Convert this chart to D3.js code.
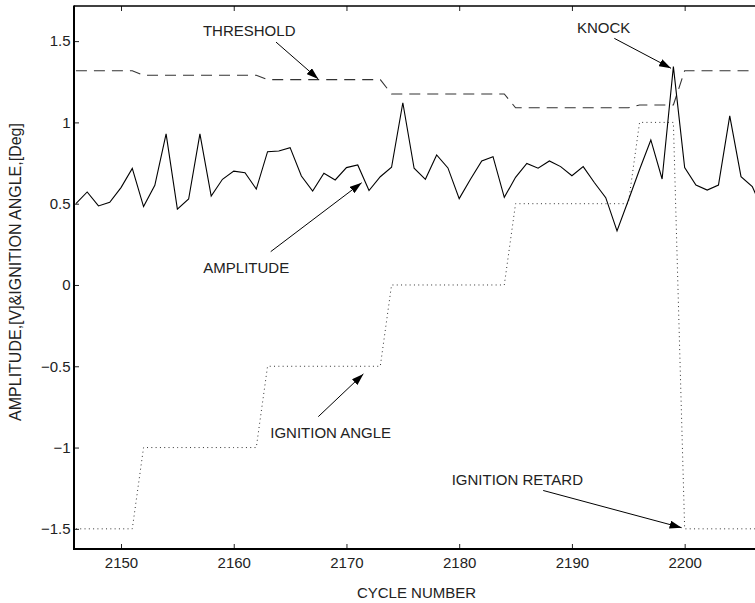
<!DOCTYPE html>
<html>
<head>
<meta charset="utf-8">
<script src="https://cdn.jsdelivr.net/npm/d3@7/dist/d3.min.js"></script>
<style>
  html, body { margin: 0; padding: 0; background: #fff; }
  svg { display: block; }
  text { font-family: "Liberation Sans", Arial, Helvetica, sans-serif; fill: #222; }
</style>
</head>
<body>
<script>
// ---------------- data ----------------
const cycles = [2146,2147,2148,2149,2150,2151,2152,2153,2154,2155,2156,2157,2158,2159,2160,2161,2162,2163,2164,2165,
                2166,2167,2168,2169,2170,2171,2172,2173,2174,2175,2176,2177,2178,2179,2180,2181,2182,2183,2184,2185,
                2186,2187,2188,2189,2190,2191,2192,2193,2194,2195,2196,2197,2198,2199,2200,2201,2202,2203,2204,2205,
                2206,2207];
const amplitude = [0.50,0.572,0.486,0.509,0.599,0.717,0.482,0.613,0.929,0.467,0.529,0.929,0.547,0.65,0.70,0.69,0.59,0.82,0.824,0.845,
                   0.67,0.578,0.687,0.646,0.722,0.738,0.581,0.666,0.724,1.121,0.718,0.65,0.80,0.72,0.531,0.65,0.763,0.789,0.539,0.662,
                   0.748,0.718,0.763,0.728,0.672,0.728,0.629,0.537,0.333,0.52,0.71,0.892,0.652,1.343,0.722,0.615,0.584,0.615,1.04,0.666,
                   0.605,0.45];
const threshold = [1.318,1.318,1.318,1.318,1.318,1.318,1.29,1.29,1.29,1.29,1.29,1.29,1.29,1.29,1.29,1.29,1.29,1.263,1.263,1.263,
                   1.263,1.263,1.263,1.263,1.263,1.263,1.263,1.263,1.175,1.175,1.175,1.175,1.175,1.175,1.175,1.175,1.175,1.175,1.175,1.09,
                   1.09,1.09,1.09,1.09,1.09,1.09,1.09,1.09,1.09,1.09,1.107,1.107,1.107,1.107,1.318,1.318,1.318,1.318,1.318,1.318,
                   1.318,1.318];
const ignition = [-1.5,-1.5,-1.5,-1.5,-1.5,-1.5,-1,-1,-1,-1,-1,-1,-1,-1,-1,-1,-1,-0.5,-0.5,-0.5,
                  -0.5,-0.5,-0.5,-0.5,-0.5,-0.5,-0.5,-0.5,0,0,0,0,0,0,0,0,0,0,0,0.5,
                  0.5,0.5,0.5,0.5,0.5,0.5,0.5,0.5,0.5,0.5,1,1,1,1,-1.5,-1.5,-1.5,-1.5,-1.5,-1.5,
                  -1.5,-1.5];
const xTicks = [2150,2160,2170,2180,2190,2200];
const xTickLabels = ["2150","2160","2170","2180","2190","2200"];
const yTicks = [-1.5,-1,-0.5,0,0.5,1,1.5];
const yTickLabels = ["\u22121.5","\u22121","\u22120.5","0","0.5","1","1.5"];
const xLabel = "CYCLE NUMBER";
const yLabel = "AMPLITUDE,[V]&IGNITION ANGLE,[Deg]";
// annotations: label, text anchor (cycle, value), arrow tail, arrow head
const annLabels = ["THRESHOLD","KNOCK","AMPLITUDE","IGNITION ANGLE","IGNITION RETARD"];
const annText   = [[2157.27,1.531],[2190.45,1.548],[2157.3,0.072],[2163.24,-0.943],[2179.33,-1.23]];
const annFrom   = [[2163.75,1.494],[2193.76,1.517],[2163.28,0.205],[2167.5,-0.81],[2187.45,-1.264]];
const annTo     = [[2167.5,1.267],[2198.79,1.333],[2171.35,0.629],[2171.5,-0.547],[2199.73,-1.493]];

// ---------------- layout ----------------
const W = 755, H = 603;
const plot = {left: 74, right: 755, top: 6, bottom: 549};

const x = d3.scaleLinear().domain([2145.83, 2206.24]).range([plot.left, plot.right]);
const y = d3.scaleLinear().domain([-1.624, 1.716]).range([plot.bottom, plot.top]);

const svg = d3.select("body").append("svg").attr("width", W).attr("height", H);

svg.append("defs").append("clipPath").attr("id", "clip")
  .append("rect").attr("x", plot.left).attr("y", plot.top)
  .attr("width", plot.right - plot.left).attr("height", plot.bottom - plot.top);

const g = svg.append("g").attr("clip-path", "url(#clip)");

function series(vals) { return cycles.map((c, i) => [c, vals[i]]); }
const line = d3.line().x(d => x(d[0])).y(d => y(d[1]));

g.append("path").datum(series(ignition)).attr("d", line)
  .attr("fill", "none").attr("stroke", "#333").attr("stroke-width", 1)
  .attr("stroke-dasharray", "1,3.3");
g.append("path").datum(series(threshold)).attr("d", line)
  .attr("fill", "none").attr("stroke", "#333").attr("stroke-width", 1.1)
  .attr("stroke-dasharray", "11,7");
g.append("path").datum(series(amplitude)).attr("d", line)
  .attr("fill", "none").attr("stroke", "#000").attr("stroke-width", 1.1)
  .attr("stroke-linejoin", "miter");

// ---------------- axes ----------------
const fontSize = 15;
const yAxis = svg.append("g").attr("transform", `translate(${plot.left},0)`)
  .call(d3.axisLeft(y).tickValues(yTicks).tickSizeInner(-5).tickSizeOuter(0).tickPadding(3.5)
        .tickFormat((d, i) => yTickLabels[i]));
yAxis.select(".domain").remove();
yAxis.selectAll("text").style("font-size", fontSize + "px").attr("fill", "#222");
yAxis.selectAll(".tick line").attr("stroke", "#222");

const xAxis = svg.append("g").attr("transform", `translate(0,${plot.bottom})`)
  .call(d3.axisBottom(x).tickValues(xTicks).tickSizeInner(-5).tickSizeOuter(0).tickPadding(8.5)
        .tickFormat((d, i) => xTickLabels[i]));
xAxis.select(".domain").remove();
xAxis.selectAll("text").style("font-size", fontSize + "px").attr("fill", "#222");
xAxis.selectAll(".tick line").attr("stroke", "#222");

const xTop = svg.append("g").attr("transform", `translate(0,${plot.top})`)
  .call(d3.axisTop(x).tickValues(xTicks).tickSizeInner(-5).tickSizeOuter(0).tickFormat(""));
xTop.select(".domain").remove();
xTop.selectAll(".tick line").attr("stroke", "#222");

// frame lines
svg.append("line").attr("x1", plot.left).attr("x2", plot.left).attr("y1", plot.top - 0.5).attr("y2", plot.bottom + 1)
  .attr("stroke", "#000").attr("stroke-width", 2);
svg.append("line").attr("x1", plot.left - 1).attr("x2", plot.right).attr("y1", plot.bottom).attr("y2", plot.bottom)
  .attr("stroke", "#000").attr("stroke-width", 2);
svg.append("line").attr("x1", plot.left).attr("x2", plot.right).attr("y1", plot.top).attr("y2", plot.top)
  .attr("stroke", "#000").attr("stroke-width", 1.5);

// axis labels
svg.append("text").attr("x", 416.5).attr("y", 598)
  .attr("text-anchor", "middle").style("font-size", fontSize + "px").text(xLabel);
svg.append("text").attr("transform", "translate(21,272) rotate(-90)")
  .attr("text-anchor", "middle").style("font-size", "16px").text(yLabel);

// ---------------- annotations ----------------
const defs = svg.select("defs");
defs.append("marker").attr("id", "arrow").attr("viewBox", "0 0 12 8")
  .attr("refX", 12).attr("refY", 4).attr("markerWidth", 12).attr("markerHeight", 8)
  .attr("markerUnits", "userSpaceOnUse").attr("orient", "auto")
  .append("path").attr("d", "M0,0 L12,4 L0,8 Z").attr("fill", "#000");

annLabels.forEach((lab, i) => {
  svg.append("text").attr("x", x(annText[i][0])).attr("y", y(annText[i][1]))
    .style("font-size", fontSize + "px").text(lab);
  svg.append("line")
    .attr("x1", x(annFrom[i][0])).attr("y1", y(annFrom[i][1]))
    .attr("x2", x(annTo[i][0])).attr("y2", y(annTo[i][1]))
    .attr("stroke", "#000").attr("stroke-width", 1)
    .attr("marker-end", "url(#arrow)");
});
</script>
</body>
</html>
